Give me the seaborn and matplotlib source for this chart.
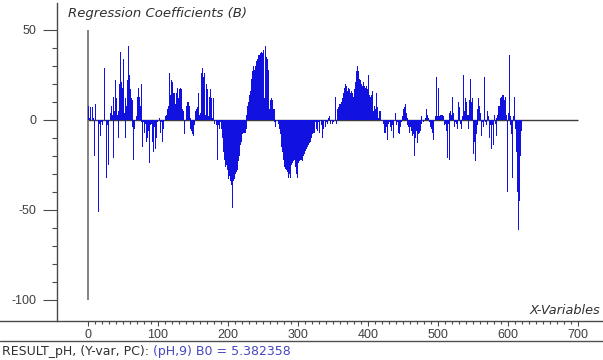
import numpy as np
import pandas as pd
import matplotlib
matplotlib.use("Agg")
import matplotlib.pyplot as plt
from matplotlib.lines import Line2D
from matplotlib.ticker import FixedLocator
import seaborn as sns

# Regression coefficients (B) for X-variables 0..619, model RESULT_pH, 9 PCs
coef_b = [
    19, 8, 1, 7, 1, 0, 7, 0, 1, -20, 0, 9, 0, 0, 0, -51, 0, -2, -9, -1,
    -1, -3, 0, 0, 29, 0, -2, -32, -3, -25, -2, 0, 4, 2, 8, 3, -21, 13, 5, 22,
    6, 12, 3, -10, 5, 20, 8, 38, 21, 18, -6, 34, 4, -10, 12, 8, 22, 18, 41, 25,
    20, 17, 12, 11, -4, -22, -3, -5, 0, 2, 4, 13, 18, 10, 13, 8, 20, -1, -15, -1,
    -1, -7, -2, -12, -3, -10, -2, -6, -24, -3, -10, -2, -12, -3, -18, -4, -16, -3, -10, -1,
    -1, 0, 1, -2, -7, -1, -12, -1, -5, 0, 1, 2, 3, 4, 6, 8, 12, 26, 14, 22,
    16, 21, 15, 14, 15, 9, 12, 15, 18, 12, 21, 17, 18, 17, 10, 6, 5, 1, -8, 0,
    2, 8, 10, 9, 10, 8, 1, -5, -6, -8, -7, -9, -3, 1, 5, 6, 7, 5, 15, 3,
    27, 4, 26, 29, 5, 24, 4, 26, 3, 20, 3, 17, 2, 13, 2, 17, 2, 12, 1, 12,
    13, -2, 0, -3, 0, -22, -2, -3, -5, -1, -7, -5, -10, -15, -18, -22, -26, -24, -25, -28,
    -30, -33, -31, -31, -34, -36, -44, -49, -34, -33, -32, -30, -29, -28, -27, -23, -20, -16, -14, -12,
    -10, -8, -7, -7, -6, -7, -5, 3, 8, 10, 12, 14, 16, 20, 23, 27, 30, 29, 28, 30,
    31, 33, 34, 35, 36, 36, 37, 37, 38, 37, 38, 39, 12, 41, 20, 35, 14, 34, 28, 6,
    24, 11, 12, 3, 11, 6, 6, -1, -4, 0, 2, 0, -2, 0, -5, -8, -12, -15, -18, -22,
    -25, -26, -27, -27, -28, -29, -30, -32, -30, -32, -28, -25, -24, -23, -22, -22, -23, -26, -30, -32,
    -28, -24, -23, -22, -21, -22, -23, -21, -20, -19, -18, -17, -16, -15, -15, -14, -13, -12, -12, -10,
    -9, -8, -7, -7, -2, -1, -5, -1, -6, -1, -3, -7, 0, -3, -1, -10, -1, -5, 0, -4,
    0, -1, -2, 0, 1, 2, 0, -2, 0, -2, 0, -1, 0, 13, 1, -2, 3, 6, 7, 9,
    8, 9, 10, 10, 12, 15, 17, 18, 20, 19, 17, 16, 18, 17, 16, 15, 16, 15, 15, 13,
    14, 17, 21, 24, 27, 30, 27, 25, 23, 22, 21, 20, 19, 20, 21, 19, 18, 17, 19, 17,
    16, 25, 14, 12, 13, 14, 3, 16, 5, 8, 2, 6, 15, 3, 7, 1, 5, 1, 5, 0,
    5, 0, -2, -7, -1, -7, -2, -4, -11, -2, -3, -1, -4, -2, -6, -3, -5, -10, 0, 4,
    0, -3, -1, -7, -2, -8, -3, -4, -1, 2, 4, 6, 7, 9, 6, 4, 1, -3, -4, -7,
    -3, -4, -6, -9, -5, -8, -14, -20, -10, -6, -8, -13, -8, -7, -5, -6, -2, 2, 0, -1,
    1, 0, 1, 2, 6, 3, 1, 0, -1, -4, -2, -5, -7, -2, -11, 0, 2, 1, 24, 2,
    5, 18, 2, 3, 1, 3, 1, 3, 2, -3, -16, -2, -6, -1, -21, -2, -22, 4, 5, 3,
    7, 13, 4, -4, -2, -1, -2, -1, -5, 10, 4, 7, -2, -1, -5, 2, 6, 25, 5, 12,
    7, 10, 3, -5, 3, 11, 8, 23, 10, 12, -7, -19, -12, -15, -23, -8, -3, 6, 12, 8,
    26, 4, -9, -1, 0, -4, 24, 2, -1, -3, 1, 5, 2, -2, -10, -3, -16, -12, -3, -14,
    1, 3, -2, -9, 1, 3, 8, 4, 8, 12, 44, 13, 14, 12, 14, 11, 13, 13, 3, -40,
    10, 4, 36, 2, -3, -8, -32, -4, 2, 13, 40, -5, -18, -38, -40, -61, -45, -37, -20, -6,
]
variables = np.arange(len(coef_b))

# extent of the reference stroke drawn at the first variable
lead_span = (-100, 50)

x_major = [0, 100, 200, 300, 400, 500, 600, 700]
x_minor = list(range(0, 701, 10))
y_major = [-100, -50, 0, 50]
y_minor = list(range(-100, 51, 10))

y_name = "RESULT_pH"
response = "pH"
n_pc = 9
b0 = 5.382358

sns.set_style("white")
plt.rcParams["font.family"] = ["Liberation Sans", "DejaVu Sans"]

W, H = 603, 360
fig = plt.figure(figsize=(W / 100, H / 100), dpi=100)
# plot area: x-axis line at 321 px from top, y-axis line starts 3 px from top
ax = fig.add_axes([0, 39 / H, 1, 318 / H])
ax.set_facecolor("white")

px_per_x = 0.7   # pixels per x unit
px_per_y = 1.8   # pixels per y unit
x0_px, y0_px = 88, 120  # pixel position of (0, 0)
xlim = (-x0_px / px_per_x, (W - x0_px) / px_per_x)
ylim = ((y0_px - 321) / px_per_y, (y0_px - 3) / px_per_y)

df = pd.DataFrame({"variable": variables, "coef": coef_b})

ax.hlines(0, x_major[0], x_major[-1], color="#3c3c3c", lw=1.0, zorder=1)
ax.vlines(variables[0], *lead_span, color="#6e6e6e", lw=1.2, zorder=1)
sns.barplot(data=df, x="variable", y="coef", native_scale=True,
            color="#1212e0", saturation=1, width=1.4, linewidth=0,
            errorbar=None, ax=ax, zorder=2)

ax.set_xlim(*xlim)
ax.set_ylim(*ylim)
ax.set_xlabel("")
ax.set_ylabel("")

for s in ("top", "right"):
    ax.spines[s].set_visible(False)
ax.spines["left"].set_position(("data", (57 - x0_px) / px_per_x))
for s in ("left", "bottom"):
    ax.spines[s].set_color("#4a4a4a")
    ax.spines[s].set_linewidth(1.0)

ax.xaxis.set_major_locator(FixedLocator(x_major))
ax.xaxis.set_minor_locator(FixedLocator(x_minor))
ax.yaxis.set_major_locator(FixedLocator(y_major))
ax.yaxis.set_minor_locator(FixedLocator(y_minor))
ax.set_xticklabels([str(v) for v in x_major])
ax.set_yticklabels([str(v) for v in y_major])

ax.tick_params(which="both", bottom=True, left=True, top=False, right=False)
ax.tick_params(axis="y", which="major", direction="out", length=10, width=0.8,
               color="#4a4a4a", labelcolor="#404040", labelsize=9, pad=4.5)
ax.tick_params(axis="y", which="minor", direction="out", length=3.6, width=0.8,
               color="#4a4a4a")
ax.tick_params(axis="x", which="major", direction="out", length=3.6, width=0.8,
               color="#4a4a4a", labelcolor="#404040", labelsize=9, pad=2.5)
ax.tick_params(axis="x", which="minor", direction="out", length=2.2, width=0.8,
               color="#4a4a4a")
ax.grid(False)

label_font = ["DejaVu Sans"]
fig.text(68 / W, 1 - 14 / H, "Regression Coefficients (B)", style="italic",
         family=label_font, fontsize=9.5, color="#303030", ha="left", va="center")
fig.text(600 / W, 1 - 311 / H, "X-Variables", style="italic",
         family=label_font, fontsize=9.3, color="#303030", ha="right", va="center")

# status line under the axis
fig.add_artist(Line2D([0, 1], [1 - 341 / H, 1 - 341 / H], transform=fig.transFigure,
                      color="#505050", lw=1.0))
t1 = fig.text(2 / W, 1 - 352 / H, f"{y_name}, (Y-var, PC): ", family=label_font,
              fontsize=9, color="#303030", ha="left", va="center")
ax.annotate(f"({response},{n_pc}) B0 = {b0:.6f}", xy=(1, 0.5), xycoords=t1,
            family=label_font, fontsize=9, color="#4646be", ha="left", va="center",
            annotation_clip=False)

fig.savefig("out.png", dpi=100)
